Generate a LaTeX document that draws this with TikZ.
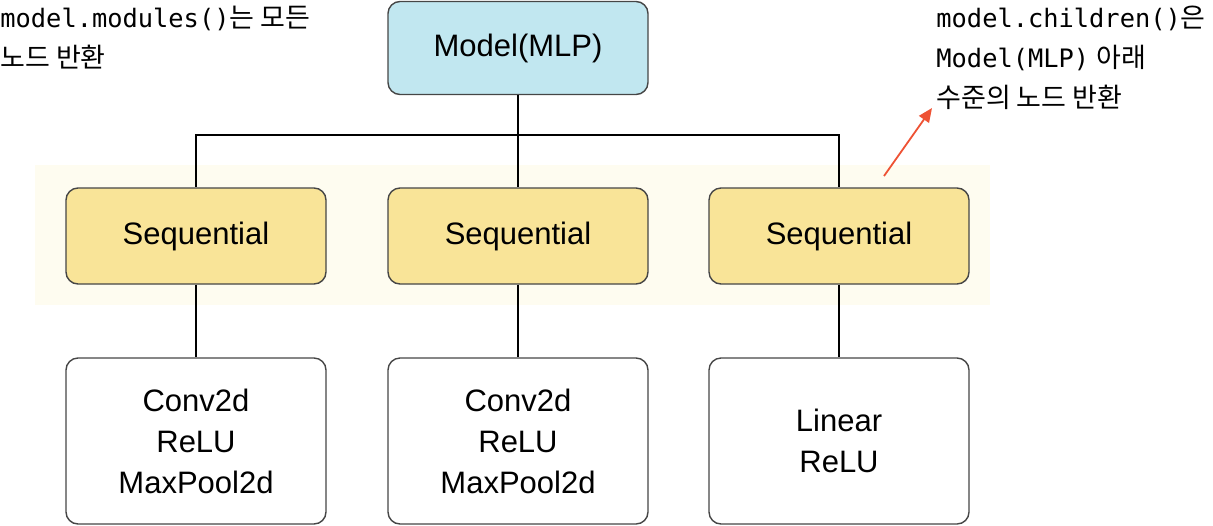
\documentclass[tikz,border=0pt]{standalone}
\usepackage{fontspec}
\setmainfont{Liberation Sans}
\setmonofont[Scale=0.94]{DejaVu Sans Mono}
\newfontfamily\krfont{Noto Sans CJK KR}
\usepackage{tikz}
\usetikzlibrary{arrows.meta}

\definecolor{modelblue}{RGB}{193,231,240}
\definecolor{seqyellow}{RGB}{249,228,152}
\definecolor{bandyellow}{RGB}{254,252,240}
\definecolor{boxline}{RGB}{70,70,70}
\definecolor{notered}{RGB}{238,82,52}

\begin{document}
\begin{tikzpicture}[x=0.5pt,y=-0.5pt]
\useasboundingbox (0,0) rectangle (1213,525);
\fill[bandyellow] (35,165) rectangle (990,305);
\begin{scope}[every node/.style={rounded corners=6pt,draw=boxline,line width=0.7pt,
              font=\fontsize{15.5}{20.5}\selectfont,align=center,minimum width=130pt}]
    \node[fill=modelblue,minimum height=46.5pt] (model) at (518,48) {Model(MLP)};
    \node[fill=seqyellow,minimum height=48pt] (seqA) at (196,236) {Sequential};
    \node[fill=seqyellow,minimum height=48pt] (seqB) at (518,236) {Sequential};
    \node[fill=seqyellow,minimum height=48pt] (seqC) at (839,236) {Sequential};
    \node[fill=white,minimum height=83pt] (convA) at (196,441) {Conv2d\\ReLU\\MaxPool2d};
    \node[fill=white,minimum height=83pt] (convB) at (518,441) {Conv2d\\ReLU\\MaxPool2d};
    \node[fill=white,minimum height=83pt] (linC) at (839,441) {Linear\\ReLU};
\end{scope}
\begin{scope}[every node/.style={inner sep=0pt,align=left,anchor=north west,
              font=\fontsize{13.5}{20}\selectfont}]
    \node (modules) at (0,6) {\texttt{model.modules()}{\krfont 는 모든}\\{\krfont 노드 반환}};
    \node (children) at (936,6) {\texttt{model.children()}{\krfont 은}\\\texttt{Model(MLP)} {\krfont 아래}\\{\krfont 수준의 노드 반환}};
\end{scope}
\coordinate (split) at (518,135);
\coordinate (tail) at (884,176);
\coordinate (head) at (932,108);
\begin{scope}[line width=0.8pt]
    \draw (model.south) -- (split);
    \draw (split) -| (seqA.north);
    \draw (split) -| (seqC.north);
    \draw (split) -- (seqB.north);
    \draw (seqA) -- (convA);
    \draw (seqB) -- (convB);
    \draw (seqC) -- (linC);
\end{scope}
\draw[notered,line width=0.9pt,-{Triangle[length=7pt,width=6pt]}] (tail) -- (head);
\end{tikzpicture}
\end{document}
